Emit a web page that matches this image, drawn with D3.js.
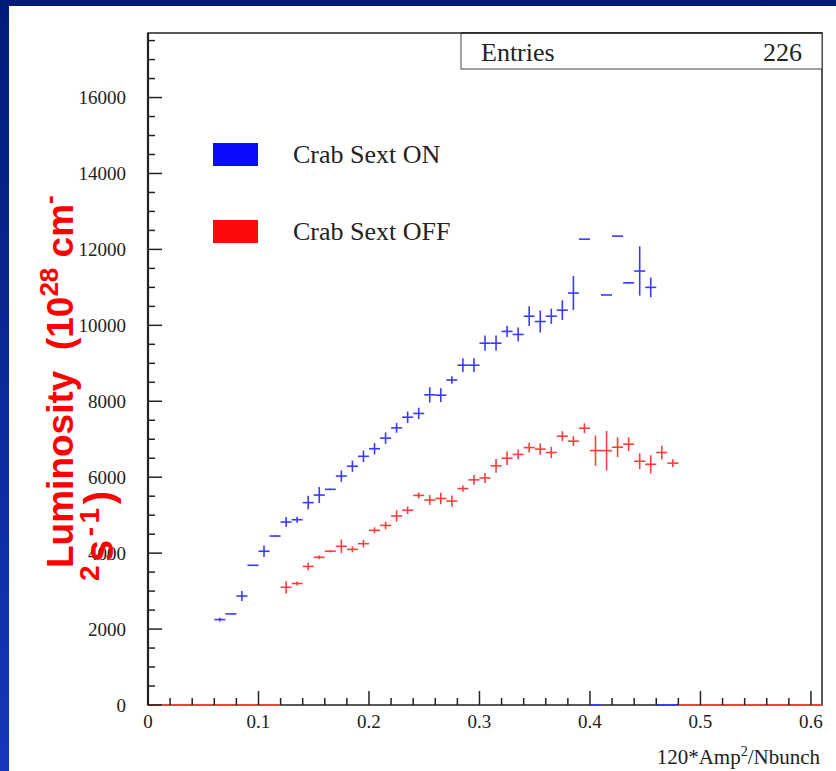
<!DOCTYPE html>
<html>
<head>
<meta charset="utf-8">
<script src="https://cdn.jsdelivr.net/npm/d3@7"></script>
<style>
  html, body { margin: 0; padding: 0; background: #ffffff; }
  svg { display: block; }
  text { white-space: pre; }
</style>
</head>
<body>
<svg id="chart" width="836" height="771"></svg>
<script>
// Histogram binning: 61 bins of width 0.01 on [0, 0.61]
const binWidth = 0.01;
const binStart = 0;
const binCount = 61;

// Luminosity per bin, crab sextupoles ON (0 = empty bin)
const lumOn = [
  0, 0, 0, 0, 0, 0, 2250, 2400, 2870, 3680,
  4050, 4450, 4820, 4880, 5330, 5530, 5680, 6030, 6290, 6550,
  6750, 7030, 7300, 7580, 7680, 8170, 8160, 8560, 8950, 8950,
  9530, 9530, 9840, 9760, 10240, 10100, 10240, 10400, 10850, 12270,
  0, 10800, 12350, 11120, 11430, 11000, 0, 0, 0, 0,
  0, 0, 0, 0, 0, 0, 0, 0, 0, 0, 0
];
const errOn = [
  0, 0, 0, 0, 0, 0, 50, 0, 130, 0,
  150, 20, 130, 80, 180, 210, 20, 150, 150, 150,
  150, 150, 130, 150, 150, 200, 180, 100, 180, 180,
  200, 200, 150, 180, 260, 290, 200, 260, 450, 0,
  0, 0, 0, 20, 650, 260, 0, 0, 0, 0,
  0, 0, 0, 0, 0, 0, 0, 0, 0, 0, 0
];

// Luminosity per bin, crab sextupoles OFF (0 = empty bin)
const lumOff = [
  0, 0, 0, 0, 0, 0, 0, 0, 0, 0,
  0, 0, 3100, 3200, 3650, 3890, 4050, 4180, 4100, 4250,
  4600, 4730, 4980, 5130, 5520, 5400, 5440, 5370, 5700, 5930,
  5980, 6300, 6500, 6600, 6780, 6740, 6650, 7080, 6950, 7290,
  6700, 6700, 6790, 6870, 6420, 6340, 6650, 6370, 0, 0,
  0, 0, 0, 0, 0, 0, 0, 0, 0, 0, 0
];
const errOff = [
  0, 0, 0, 0, 0, 0, 0, 0, 0, 0,
  0, 0, 160, 50, 100, 50, 30, 180, 80, 100,
  80, 100, 150, 100, 80, 130, 150, 150, 80, 130,
  130, 180, 180, 130, 130, 150, 150, 130, 130, 130,
  400, 520, 260, 180, 210, 240, 180, 100, 0, 0,
  0, 0, 0, 0, 0, 0, 0, 0, 0, 0, 0
];

const xTicks = [0, 0.1, 0.2, 0.3, 0.4, 0.5, 0.6];
const xTickLabels = ["0", "0.1", "0.2", "0.3", "0.4", "0.5", "0.6"];
const yTicks = [0, 2000, 4000, 6000, 8000, 10000, 12000, 14000, 16000];

const legendLabels = ["Crab Sext ON", "Crab Sext OFF"];
const entriesLabel = "Entries";
const entriesValue = "226";

const colorOn = "#3a3aff";
const colorOff = "#ff3d3d";
const serif = "'Liberation Serif', 'Times New Roman', serif";

const svg = d3.select("#chart");
const W = 836, H = 771;

// Slide background: navy border with white page
const bg = svg.append("defs").append("linearGradient")
  .attr("id", "navy").attr("x1", 0).attr("y1", 0).attr("x2", 0).attr("y2", 1);
bg.append("stop").attr("offset", "0%").attr("stop-color", "#001c78");
bg.append("stop").attr("offset", "100%").attr("stop-color", "#1438b8");
svg.append("rect").attr("width", W).attr("height", H).attr("fill", "url(#navy)");
svg.append("rect").attr("x", 9).attr("y", 6).attr("width", W - 9).attr("height", H - 6).attr("fill", "#ffffff");

// Plot area
const plotLeft = 148, plotRight = 822, plotTop = 33, plotBottom = 705;
const x = d3.scaleLinear().domain([binStart, binStart + binCount * binWidth]).range([plotLeft, plotRight]);
const y = d3.scaleLinear().domain([0, 17700]).range([plotBottom, plotTop]);

const bins = d3.range(binCount).map(i => binStart + i * binWidth);

// Error-bar histograms: horizontal bin bar plus vertical error bar
function drawHist(vals, errs, color) {
  const g = svg.append("g").attr("stroke", color).attr("stroke-width", 1.6).attr("fill", "none");
  bins.forEach((x0, i) => {
    const v = vals[i], e = errs[i];
    if (v === 0) return;
    g.append("line")
      .attr("x1", x(x0)).attr("x2", x(x0 + binWidth))
      .attr("y1", y(v)).attr("y2", y(v));
    if (e > 0) {
      const xc = x(x0 + binWidth / 2);
      g.append("line")
        .attr("x1", xc).attr("x2", xc)
        .attr("y1", y(v - e)).attr("y2", y(v + e));
    }
  });
}
drawHist(lumOn, errOn, colorOn);
drawHist(lumOff, errOff, colorOff);

// Frame
svg.append("rect")
  .attr("x", plotLeft).attr("y", plotTop).attr("width", plotRight - plotLeft).attr("height", plotBottom - plotTop)
  .attr("fill", "none").attr("stroke", "#222").attr("stroke-width", 1.5);
svg.append("line").attr("x1", plotLeft).attr("x2", plotLeft).attr("y1", plotTop).attr("y2", plotBottom)
  .attr("stroke", "#222").attr("stroke-width", 2.2);

// Empty bins sit on the zero line in their histogram colour
const zeroG = svg.append("g").attr("stroke-width", 2);
bins.forEach((x0, i) => {
  let c = null;
  if (lumOff[i] === 0) c = colorOff;
  else if (lumOn[i] === 0) c = colorOn;
  if (c) {
    zeroG.append("line").attr("stroke", c)
      .attr("x1", x(x0)).attr("x2", x(x0 + binWidth)).attr("y1", plotBottom).attr("y2", plotBottom);
  }
});

// Y ticks (major 2000, minor 500)
const tickG = svg.append("g").attr("stroke", "#222").attr("stroke-width", 1.5);
d3.range(0, 17700, 500).forEach(v => {
  const major = v % 2000 === 0;
  tickG.append("line").attr("x1", plotLeft).attr("x2", plotLeft + (major ? 14 : 7))
    .attr("y1", y(v)).attr("y2", y(v));
});
// X ticks (major 0.1, minor 0.02)
d3.range(0, 31).forEach(k => {
  const v = k * 0.02;
  const major = k % 5 === 0;
  tickG.append("line").attr("x1", x(v)).attr("x2", x(v))
    .attr("y1", plotBottom).attr("y2", plotBottom - (major ? 14 : 7));
});

// Tick labels
svg.append("g").selectAll("text").data(yTicks).join("text")
  .attr("x", 126).attr("y", d => y(d) + 6.5)
  .attr("text-anchor", "end")
  .attr("font-family", serif).attr("font-size", 19).attr("fill", "#222")
  .text(d => d);
svg.append("g").selectAll("text").data(xTicks).join("text")
  .attr("x", d => x(d)).attr("y", 728)
  .attr("text-anchor", "middle")
  .attr("font-family", serif).attr("font-size", 19).attr("fill", "#222")
  .text((d, i) => xTickLabels[i]);

// X axis title
const xt = svg.append("text").attr("x", 820).attr("y", 764).attr("text-anchor", "end")
  .attr("font-family", serif).attr("font-size", 21).attr("fill", "#222");
xt.append("tspan").text("120*Amp");
xt.append("tspan").attr("dy", -8).attr("font-size", 14).text("2");
xt.append("tspan").attr("dy", 8).text("/Nbunch");

// Y axis title, two lines, rotated
const ytFont = "'Liberation Sans', Arial, sans-serif";
const yt1 = svg.append("text").attr("transform", "translate(73,568) rotate(-90)")
  .attr("font-family", ytFont).attr("font-weight", "bold").attr("font-size", 37).attr("fill", "#ff0000");
yt1.append("tspan").text("Luminosity  (10");
yt1.append("tspan").attr("dy", -15).attr("font-size", 26).text("28");
yt1.append("tspan").attr("dy", 15).text(" cm");
yt1.append("tspan").attr("dy", -15).attr("font-size", 26).text("-");
const yt2 = svg.append("text").attr("transform", "translate(113,581) rotate(-90)")
  .attr("font-family", ytFont).attr("font-weight", "bold").attr("font-size", 40).attr("fill", "#ff0000")
  .attr("textLength", 90).attr("lengthAdjust", "spacing");
yt2.append("tspan").attr("dy", -14).attr("font-size", 28).text("2");
yt2.append("tspan").attr("dy", 14).text("s");
yt2.append("tspan").attr("dy", -14).attr("font-size", 28).text("-1");
yt2.append("tspan").attr("dy", 14).text(")");

// Legend
const legendColors = ["#0a0aff", "#ff0a0a"];
const legendY = [143, 220];
legendLabels.forEach((lab, i) => {
  svg.append("rect").attr("x", 213).attr("y", legendY[i]).attr("width", 45).attr("height", 23)
    .attr("fill", legendColors[i]);
  svg.append("text").attr("x", 293).attr("y", legendY[i] + 20)
    .attr("font-family", serif).attr("font-size", 26).attr("fill", "#222").text(lab);
});

// Statistics box
svg.append("rect").attr("x", 461).attr("y", plotTop).attr("width", plotRight - 461).attr("height", 36)
  .attr("fill", "#fff").attr("stroke", "#444").attr("stroke-width", 1);
svg.append("line").attr("x1", 461).attr("x2", plotRight).attr("y1", plotTop).attr("y2", plotTop)
  .attr("stroke", "#222").attr("stroke-width", 1.5);
svg.append("text").attr("x", 481).attr("y", 61)
  .attr("font-family", serif).attr("font-size", 26).attr("fill", "#222").text(entriesLabel);
svg.append("text").attr("x", 802).attr("y", 61).attr("text-anchor", "end")
  .attr("font-family", serif).attr("font-size", 26).attr("fill", "#222").text(entriesValue);
</script>
</body>
</html>
